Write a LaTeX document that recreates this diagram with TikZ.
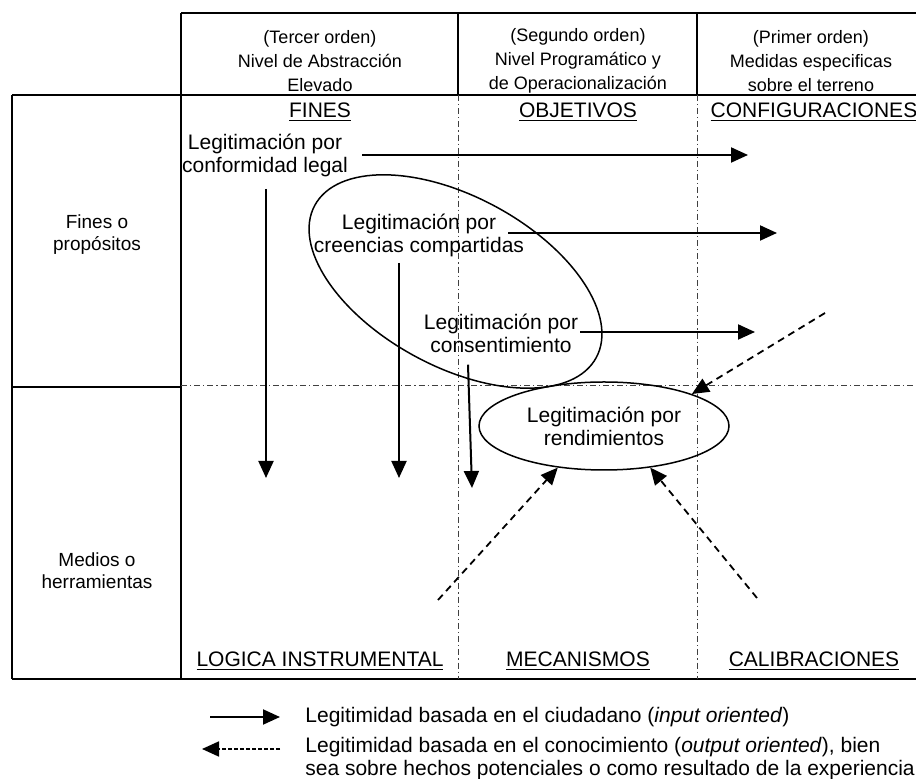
\documentclass[tikz,border=0pt]{standalone}
\usepackage{fontspec}
\setmainfont{Liberation Sans}
\usetikzlibrary{arrows.meta,shapes.geometric,calc}

\tikzset{
  txt/.style={inner sep=0pt, align=center, font=\fontsize{10.5}{11.5}\selectfont},
  hd/.style={inner sep=0pt, align=center, font=\fontsize{9}{12}\selectfont},
  rowlab/.style={inner sep=0pt, align=center, font=\fontsize{9.5}{11}\selectfont},
  frame/.style={line width=0.7pt},
  gridline/.style={line width=0.5pt, black!75, dash pattern=on 3pt off 1.5pt on 0.6pt off 1.5pt},
  inarrow/.style={line width=1pt, -{Triangle[length=8.5pt,width=7.5pt]}},
  outarrow/.style={line width=0.9pt, dash pattern=on 3.5pt off 2.5pt, -{Triangle[length=8.5pt,width=7.5pt]}},
  oval/.style={line width=0.75pt},
}

\begin{document}
\begin{tikzpicture}[x=0.5pt,y=-0.5pt]
\useasboundingbox (0,0) rectangle (916,779);
% table
\draw[frame] (181,13) -- (916,13);
\draw[frame] (12,95) -- (916,95);
\draw[frame] (12,679) -- (916,679);
\draw[frame] (12,95) -- (12,679);
\draw[frame] (181,13) -- (181,679);
\foreach \x in {458,697}
  \draw[frame] (\x,13) -- (\x,95);
\draw[frame] (12,387) -- (181,387);
\draw[gridline] (181,386) -- (916,386);
\foreach \x in {458,697}
  \draw[gridline] (\x,95) -- (\x,679);

% headers
\node[hd] (terc) at (320,61) {(Tercer orden)\\Nivel de Abstracción\\Elevado};
\node[hd] (segu) at (578,61) {(Segundo orden)\\Nivel Programático y\\de Operacionalización};
\node[hd] (prim) at (811,61) {(Primer orden)\\Medidas especificas\\sobre el terreno};

\node[txt] (fines) at (320,112) {\underline{FINES}};
\node[txt] (objet) at (578,112) {\underline{OBJETIVOS}};
\node[txt] (config) at (814,112) {\underline{CONFIGURACIONES}};
\node[txt] (logica) at (320,661) {\underline{LOGICA INSTRUMENTAL}};
\node[txt] (mecan) at (578,661) {\underline{MECANISMOS}};
\node[txt] (calib) at (814,661) {\underline{CALIBRACIONES}};

\node[rowlab] (rowfin) at (97,235) {Fines o\\propósitos};
\node[rowlab] (rowmed) at (97,571) {Medios o\\herramientas};

% legitimation types
\node[txt] (legal) at (265,155) {Legitimación por\\conformidad legal};
\node[txt] (creen) at (419,235) {Legitimación por\\creencias compartidas};
\node[txt] (consen) at (501,333) {Legitimación por\\consentimiento};
\node[txt, ellipse, draw, oval, minimum width=125pt, minimum height=44pt] (rend) at (604,426) {Legitimación por\\rendimientos};
\draw[oval, shift={(455.5,281.5)}, rotate=-28.4] (0,0) ellipse [x radius=160, y radius=85];

\coordinate (legal-tip) at (748,154);
\coordinate (creen-tip) at (777,233);
\coordinate (consen-tip) at (755,332);
\coordinate (legal-down) at (266,478);
\coordinate (creen-down) at (399,478);
\coordinate (consen-down) at (472,488);

\draw[inarrow] ($(legal.east)+(14,0)$) -- (legal.east -| legal-tip);
\draw[inarrow] ($(creen.east)+(-16,-2)$) -- (creen-tip);
\draw[inarrow] ($(consen.east)+(2,-1)$) -- (consen-tip);
\draw[inarrow] ($(legal.south)+(1,12)$) -- (legal-down);
\draw[inarrow] ($(creen.south)+(-20,6)$) -- (creen-down);
\draw[inarrow] ($(consen.south)+(-33,12)$) -- (consen-down);

% output oriented
\coordinate (out-a) at (825,313);
\coordinate (out-b) at (438,600);
\coordinate (out-c) at (757,598);
\draw[outarrow] (out-a) -- (rend.20);
\draw[outarrow] (out-b) -- (rend.222);
\draw[outarrow] (out-c) -- (rend.318);

% legend
\coordinate (leg-in-a) at (210,717);
\coordinate (leg-in-b) at (280,717);
\coordinate (leg-out-a) at (280,749);
\coordinate (leg-out-b) at (202,749);
\draw[inarrow] (leg-in-a) -- (leg-in-b);
\draw[outarrow, dash pattern=on 2pt off 1pt] (leg-out-a) -- (leg-out-b);
\node[txt, anchor=west] (leg-in) at (305,717) {Legitimidad basada en el ciudadano (\textit{input oriented})};
\node[txt, anchor=west, align=left] (leg-out) at (305,759) {Legitimidad basada en el conocimiento (\textit{output oriented}), bien\\sea sobre hechos potenciales o como resultado de la experiencia};
\end{tikzpicture}
\end{document}
